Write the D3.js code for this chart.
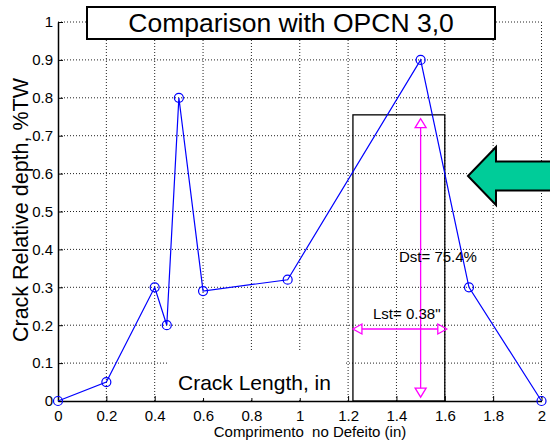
<!DOCTYPE html>
<html><head><meta charset="utf-8">
<script src="https://cdn.jsdelivr.net/npm/d3@7"></script>
<style>body{margin:0;background:#fff}svg{display:block;font-family:"Liberation Sans",Arial,sans-serif}</style>
</head><body><svg id="c" width="550" height="442"></svg>
<script>
const xVals = [0, 0.2, 0.4, 0.45, 0.5, 0.6, 0.95, 1.5, 1.7, 2];
const yVals = [0, 0.05, 0.3, 0.2, 0.8, 0.29, 0.32, 0.9, 0.3, 0];
const xTicks = [0, 0.2, 0.4, 0.6, 0.8, 1, 1.2, 1.4, 1.6, 1.8, 2];
const yTicks = [0, 0.1, 0.2, 0.3, 0.4, 0.5, 0.6, 0.7, 0.8, 0.9, 1];
const xTickLabels = ["0","0.2","0.4","0.6","0.8","1","1.2","1.4","1.6","1.8","2"];
const yTickLabels = ["0","0.1","0.2","0.3","0.4","0.5","0.6","0.7","0.8","0.9","1"];
const rectX = [1.22, 1.6];
const rectTop = 0.755;
const dstArrow = {x: 1.5, y0: 0.01, y1: 0.745};
const lstArrow = {y: 0.19, x0: 1.22, x1: 1.6};
const title = "Comparison with OPCN 3,0";
const yLabel = "Crack Relative depth, %TW";
const xLabel = "Comprimento  no Defeito (in)";
const innerLabel = "Crack Length, in";
const dstLabel = "Dst= 75.4%";
const lstLabel = "Lst= 0.38\"";

const svg = d3.select("#c");
const x = d3.scaleLinear().domain([0, 2]).range([58, 541.5]);
const y = d3.scaleLinear().domain([0, 1]).range([401, 22]);

// grid
const g = svg.append("g");
g.selectAll(".vg").data(xTicks.slice(1)).join("line")
  .attr("x1", d => x(d)).attr("x2", d => x(d)).attr("y1", y(0)).attr("y2", y(1))
  .attr("stroke", "#222").attr("stroke-width", 1).attr("stroke-dasharray", "1,2");
g.selectAll(".hg").data(yTicks.slice(1)).join("line")
  .attr("y1", d => y(d)).attr("y2", d => y(d)).attr("x1", x(0)).attr("x2", x(2))
  .attr("stroke", "#222").attr("stroke-width", 1).attr("stroke-dasharray", "1,2");

// axes
const xAxis = d3.axisBottom(x).tickValues(xTicks).tickFormat((d, i) => xTickLabels[i]).tickSizeInner(-5).tickSizeOuter(0).tickPadding(9);
const yAxis = d3.axisLeft(y).tickValues(yTicks).tickFormat((d, i) => yTickLabels[i]).tickSizeInner(-5).tickSizeOuter(0).tickPadding(5);
const gx = svg.append("g").attr("transform", `translate(0,${y(0)})`).call(xAxis);
const gy = svg.append("g").attr("transform", `translate(${x(0)},0)`).call(yAxis);
[gx, gy].forEach(a => {
  a.select(".domain").attr("stroke", "#000").attr("stroke-width", 1.5);
  a.selectAll(".tick line").attr("stroke", "#000");
  a.selectAll(".tick text").attr("font-size", 15).attr("fill", "#000").attr("font-family", "Liberation Sans, Arial, sans-serif");
});
gx.selectAll(".tick text").attr("dy", "0.71em");

// white box behind inner label
svg.append("rect").attr("x", 168).attr("y", 352).attr("width", 177).attr("height", 46).attr("fill", "#fff");
svg.append("text").attr("x", 178).attr("y", 390).attr("font-size", 21).attr("fill", "#000").text(innerLabel);

// rectangle
svg.append("rect").attr("x", x(rectX[0])).attr("y", y(rectTop))
  .attr("width", x(rectX[1]) - x(rectX[0])).attr("height", y(0) - y(rectTop))
  .attr("fill", "none").attr("stroke", "#000").attr("stroke-width", 1.3);

// magenta arrows
const mag = "#ff00ff";
const ma = svg.append("g").attr("stroke", mag).attr("fill", "none").attr("stroke-width", 1.3);
const ax = x(dstArrow.x), ay0 = y(dstArrow.y0), ay1 = y(dstArrow.y1);
ma.append("line").attr("x1", ax).attr("x2", ax).attr("y1", ay0 - 9).attr("y2", ay1 + 9);
ma.append("path").attr("d", `M${ax},${ay1} L${ax - 5.5},${ay1 + 9} L${ax + 5.5},${ay1 + 9} Z`);
ma.append("path").attr("d", `M${ax},${ay0} L${ax - 5.5},${ay0 - 9} L${ax + 5.5},${ay0 - 9} Z`);
const hy = y(lstArrow.y), hx0 = x(lstArrow.x0), hx1 = x(lstArrow.x1) + 2;
ma.append("line").attr("x1", hx0 + 9).attr("x2", hx1 - 9).attr("y1", hy).attr("y2", hy);
ma.append("path").attr("d", `M${hx0},${hy} L${hx0 + 9},${hy - 5} L${hx0 + 9},${hy + 5} Z`);
ma.append("path").attr("d", `M${hx1},${hy} L${hx1 - 9},${hy - 5} L${hx1 - 9},${hy + 5} Z`);

svg.append("text").attr("x", 399).attr("y", 262).attr("font-size", 15).attr("fill", "#000").text(dstLabel);
svg.append("text").attr("x", 373).attr("y", 319).attr("font-size", 15).attr("fill", "#000").text(lstLabel);

// data line
const line = d3.line().x((d, i) => x(xVals[i])).y((d, i) => y(yVals[i]));
svg.append("path").datum(yVals).attr("d", line).attr("fill", "none").attr("stroke", "#0000ff").attr("stroke-width", 1.2);
svg.selectAll(".pt").data(yVals).join("circle")
  .attr("cx", (d, i) => x(xVals[i])).attr("cy", d => y(d)).attr("r", 4.5)
  .attr("fill", "none").attr("stroke", "#0000ff").attr("stroke-width", 1.2);

// green arrow
svg.append("path")
  .attr("d", "M468,176 L496,147 L496,161.5 L560,161.5 L560,190.5 L496,190.5 L496,205 Z")
  .attr("fill", "#00cc99").attr("stroke", "#000").attr("stroke-width", 2).attr("stroke-linejoin", "miter");

// title
svg.append("rect").attr("x", 87).attr("y", 7).attr("width", 408).attr("height", 32)
  .attr("fill", "#fff").attr("stroke", "#000").attr("stroke-width", 2);
svg.append("text").attr("x", 291).attr("y", 32).attr("text-anchor", "middle").attr("font-size", 26.5).attr("fill", "#000").text(title);

// axis labels
svg.append("text").attr("transform", "translate(28,210) rotate(-90)").attr("text-anchor", "middle")
  .attr("font-size", 21.5).attr("fill", "#000").text(yLabel);
svg.append("text").attr("x", 310).attr("y", 437).attr("text-anchor", "middle")
  .attr("font-size", 15).attr("fill", "#000").attr("xml:space", "preserve").style("white-space", "pre").text(xLabel);
</script></body></html>
